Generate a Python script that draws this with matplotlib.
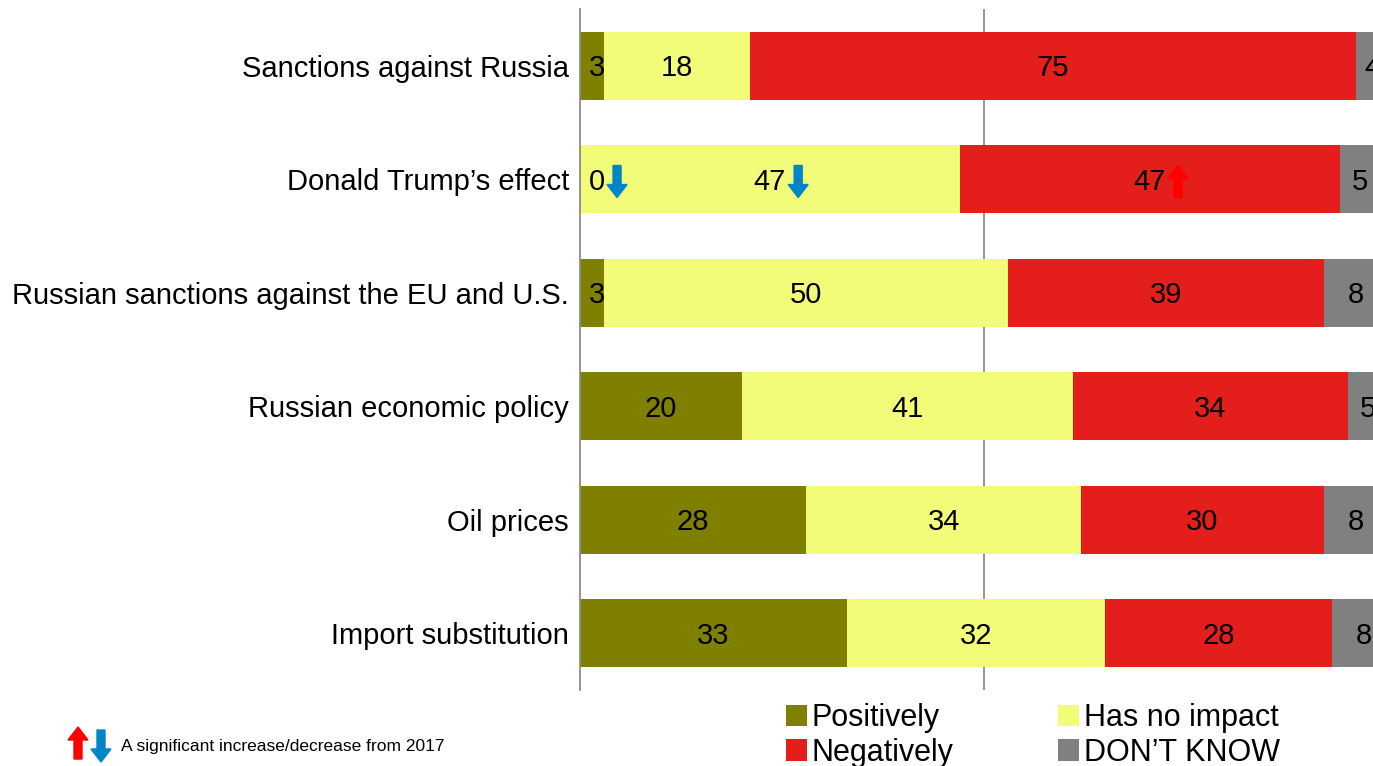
import matplotlib.pyplot as plt
from matplotlib.patches import Polygon
import numpy as np

plt.rcParams['font.family'] = ['Liberation Sans', 'DejaVu Sans']

categories = ["Sanctions against Russia", "Donald Trump\u2019s effect",
              "Russian sanctions against the EU and U.S.", "Russian economic policy",
              "Oil prices", "Import substitution"]
positively = [3, 0, 3, 20, 28, 33]
no_impact = [18, 47, 50, 41, 34, 32]
negatively = [75, 47, 39, 34, 30, 28]
dont_know = [4, 5, 8, 5, 8, 8]

series_names = ["Positively", "Has no impact", "Negatively", "DON\u2019T KNOW"]
colors = ["#7F8000", "#F2FC78", "#E31E1B", "#808080"]

# (category index, series index, direction) for significant changes vs 2017
changes = [(1, 0, "down"), (1, 1, "down"), (1, 2, "up")]

W, H = 1373, 766
fig = plt.figure(figsize=(W / 100, H / 100), dpi=100)
ax = fig.add_axes([580 / W, 1 - 690 / H, 1 - 580 / W, (690 - 9) / H])

y = np.arange(len(categories))
data = [positively, no_impact, negatively, dont_know]
left = np.zeros(len(categories))
bars = []
for vals, name, col in zip(data, series_names, colors):
    b = ax.barh(y, vals, left=left, height=0.6, color=col, label=name, zorder=2)
    bars.append(b)
    left += np.array(vals)

ax.set_xlim(0, 98.1)
ax.set_ylim(len(categories) - 0.5, -0.5)
ax.axvline(50, color="#8C8C8C", lw=1.3, zorder=1)

for s in ["top", "right", "bottom"]:
    ax.spines[s].set_visible(False)
ax.spines["left"].set_color("#8C8C8C")
ax.spines["left"].set_linewidth(1.3)
ax.set_xticks([])
ax.set_yticks(y)
ax.set_yticklabels(categories, fontsize=21)
ax.tick_params(axis="y", length=0, pad=8)


def arrow(x_px, y_px, direction, color):
    # block arrow in display pixels (y measured from the bottom), anchored at left-centre
    w, h, head = 20, 32, 13
    pts = np.array([[6, 0], [14, 0], [14, h - head], [w, h - head],
                    [10, h], [0, h - head], [6, h - head]], dtype=float)
    if direction == "down":
        pts[:, 1] = h - pts[:, 1]
    pts[:, 0] += x_px
    pts[:, 1] += y_px - h / 2
    fig.patches.append(Polygon(pts, closed=True, color=color,
                               transform=None, figure=fig, zorder=5))


# value labels
fig.canvas.draw()
renderer = fig.canvas.get_renderer()
lefts = np.zeros(len(categories))
marked = {(c, s): d for c, s, d in changes}
for si, vals in enumerate(data):
    for ci, v in enumerate(vals):
        xc = lefts[ci] + v / 2
        if v < 4:
            xc = lefts[ci] + 2.1
        t = ax.text(xc, ci + 0.02, str(v), ha="center", va="center", fontsize=21,
                    zorder=4, clip_on=False)
        if (ci, si) in marked:
            bb = t.get_window_extent(renderer)
            d = marked[(ci, si)]
            arrow(bb.x1 + 2, (bb.y0 + bb.y1) / 2, d,
                  "#0085C8" if d == "down" else "#FF0000")
        lefts[ci] += v

handles = [bars[0], bars[2], bars[1], bars[3]]
labels = [series_names[0], series_names[2], series_names[1], series_names[3]]
fig.legend(handles, labels, ncol=2, loc="upper left",
           bbox_to_anchor=(786 / W, 1 - 703 / H), frameon=False,
           fontsize=22, handlelength=0.7, handleheight=0.7, handletextpad=0.15,
           columnspacing=3.4, labelspacing=0.15, borderpad=0, borderaxespad=0)

# note about the arrows
arrow(68, H - 743, "up", "#FF0000")
arrow(91, H - 746, "down", "#0085C8")
fig.text(121 / W, 1 - 747 / H, "A significant increase/decrease from 2017",
         fontsize=12.5, va="center", ha="left")

fig.savefig("out.png", dpi=100)
